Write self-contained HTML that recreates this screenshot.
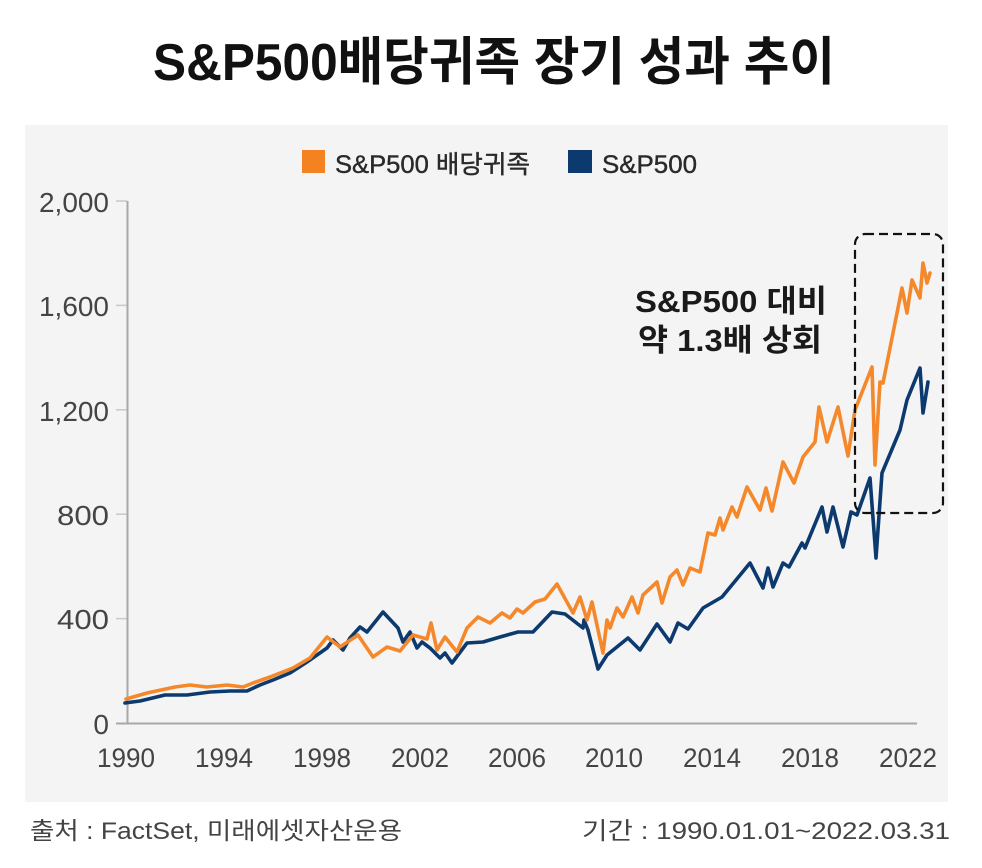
<!DOCTYPE html>
<html>
<head>
<meta charset="utf-8">
<style>
  html, body { margin:0; padding:0; background:#ffffff; }
  body { width:982px; height:868px; overflow:hidden; }
  svg { display:block; }
  .f { font-family: "Liberation Sans", "Noto Sans CJK KR", sans-serif; }
</style>
</head>
<body>
<svg width="982" height="868" viewBox="0 0 982 868" xmlns="http://www.w3.org/2000/svg">
  <rect x="0" y="0" width="982" height="868" fill="#ffffff"/>
  <!-- Title -->
  <text class="f" x="153" y="80" font-size="52" font-weight="bold" fill="#111" textLength="682" lengthAdjust="spacingAndGlyphs">S&amp;P500배당귀족 장기 성과 추이</text>

  <!-- Panel -->
  <rect x="25" y="125" width="923" height="677" fill="#f4f4f4"/>

  <!-- Legend -->
  <rect x="302" y="150" width="23" height="23" fill="#F58220"/>
  <text class="f" x="335" y="173" font-size="25" fill="#2a2a2a" stroke="#2a2a2a" stroke-width="0.4" textLength="195" lengthAdjust="spacingAndGlyphs">S&amp;P500 배당귀족</text>
  <rect x="568" y="150" width="24" height="23" fill="#0C3A6E"/>
  <text class="f" x="602" y="173" font-size="25" fill="#2a2a2a" stroke="#2a2a2a" stroke-width="0.4" textLength="95" lengthAdjust="spacingAndGlyphs">S&amp;P500</text>

  <!-- Y ticks -->
  <g stroke="#c8c8c8" stroke-width="1.5">
    <line x1="116" y1="201" x2="127" y2="201"/>
    <line x1="116" y1="305.4" x2="127" y2="305.4"/>
    <line x1="116" y1="409.8" x2="127" y2="409.8"/>
    <line x1="116" y1="514.2" x2="127" y2="514.2"/>
    <line x1="116" y1="618.6" x2="127" y2="618.6"/>
  </g>
  <!-- Axes -->
  <line x1="127.5" y1="201" x2="127.5" y2="724" stroke="#a8a8a8" stroke-width="2"/>
  <line x1="116" y1="723.5" x2="917" y2="723.5" stroke="#a8a8a8" stroke-width="2"/>

  <!-- Y labels -->
  <g class="f" font-size="28" fill="#444" text-anchor="end">
    <text x="109" y="212" textLength="70" lengthAdjust="spacingAndGlyphs">2,000</text>
    <text x="109" y="316" textLength="70" lengthAdjust="spacingAndGlyphs">1,600</text>
    <text x="109" y="421" textLength="70" lengthAdjust="spacingAndGlyphs">1,200</text>
    <text x="109" y="525" textLength="52" lengthAdjust="spacingAndGlyphs">800</text>
    <text x="109" y="629" textLength="52" lengthAdjust="spacingAndGlyphs">400</text>
    <text x="109" y="734">0</text>
  </g>

  <!-- X labels -->
  <g class="f" font-size="27" fill="#444" text-anchor="middle">
    <text x="126" y="767" textLength="58" lengthAdjust="spacingAndGlyphs">1990</text>
    <text x="224" y="767" textLength="58" lengthAdjust="spacingAndGlyphs">1994</text>
    <text x="322" y="767" textLength="58" lengthAdjust="spacingAndGlyphs">1998</text>
    <text x="420" y="767" textLength="58" lengthAdjust="spacingAndGlyphs">2002</text>
    <text x="517" y="767" textLength="58" lengthAdjust="spacingAndGlyphs">2006</text>
    <text x="614" y="767" textLength="58" lengthAdjust="spacingAndGlyphs">2010</text>
    <text x="712" y="767" textLength="58" lengthAdjust="spacingAndGlyphs">2014</text>
    <text x="810" y="767" textLength="58" lengthAdjust="spacingAndGlyphs">2018</text>
    <text x="908" y="767" textLength="58" lengthAdjust="spacingAndGlyphs">2022</text>
  </g>

  <!-- Navy series -->
  <polyline fill="none" stroke="#0C3A6E" stroke-width="3.6" stroke-linejoin="round" stroke-linecap="round"
    points="125,703 140,701 165,695 187,695 210,692 230,691 247,691 260,685 273,680 290,673 307,662 327,648 333,640 343,650 350,638 360,627 367,632 383,612 398,628 403,642 410,632 417,648 422,642 430,648 440,658 445,653 452,663 467,643 483,642 500,637 518,632 533,632 552,612 565,614 583,628 584,620 588,630 598,669 607,655 628,638 640,650 657,624 670,642 678,623 688,629 703,608 722,597 750,563 763,588 768,568 773,587 783,563 789,567 802,543 805,548 822,507 827,532 833,507 843,547 851,512 857,515 870,478 876,558 882,473 900,430 907,400 920,368 923,413 928,382"/>

  <!-- Orange series -->
  <polyline fill="none" stroke="#F5882A" stroke-width="3.6" stroke-linejoin="round" stroke-linecap="round"
    points="126,699 147,693 175,687 190,685 207,687 227,685 243,687 253,683 270,677 293,668 310,658 327,637 340,647 358,635 373,657 387,647 400,651 413,635 427,639 431,623 437,650 445,637 457,652 467,628 478,617 490,623 502,613 510,618 517,609 523,613 535,602 545,599 557,584 573,613 580,597 587,620 592,602 603,653 607,620 610,628 617,608 623,617 632,597 638,613 643,595 657,582 662,603 670,577 677,570 683,585 690,568 700,572 708,533 715,535 720,518 723,530 732,507 737,517 747,487 760,510 766,488 772,511 783,462 794,483 803,457 815,442 819,407 827,442 838,407 848,456 855,410 872,367 875,465 880,382 883,383 902,288 907,313 912,280 920,298 923,263 927,283 930,273"/>

  <!-- Dashed highlight box -->
  <rect x="855" y="234" width="88" height="279" rx="10" ry="10" fill="none" stroke="#111" stroke-width="2.2" stroke-dasharray="9 5"/>

  <!-- Annotation -->
  <g class="f" font-size="31" font-weight="bold" fill="#1a1a1a">
    <text x="635" y="312" textLength="192" lengthAdjust="spacingAndGlyphs">S&amp;P500 대비</text>
    <text x="638" y="351" textLength="184" lengthAdjust="spacingAndGlyphs">약 1.3배 상회</text>
  </g>

  <!-- Footer -->
  <text class="f" x="30" y="839" font-size="24" fill="#444" textLength="372" lengthAdjust="spacingAndGlyphs">출처 : FactSet, 미래에셋자산운용</text>
  <text class="f" x="582" y="839" font-size="24" fill="#444" textLength="368" lengthAdjust="spacingAndGlyphs">기간 : 1990.01.01~2022.03.31</text>
</svg>
</body>
</html>
